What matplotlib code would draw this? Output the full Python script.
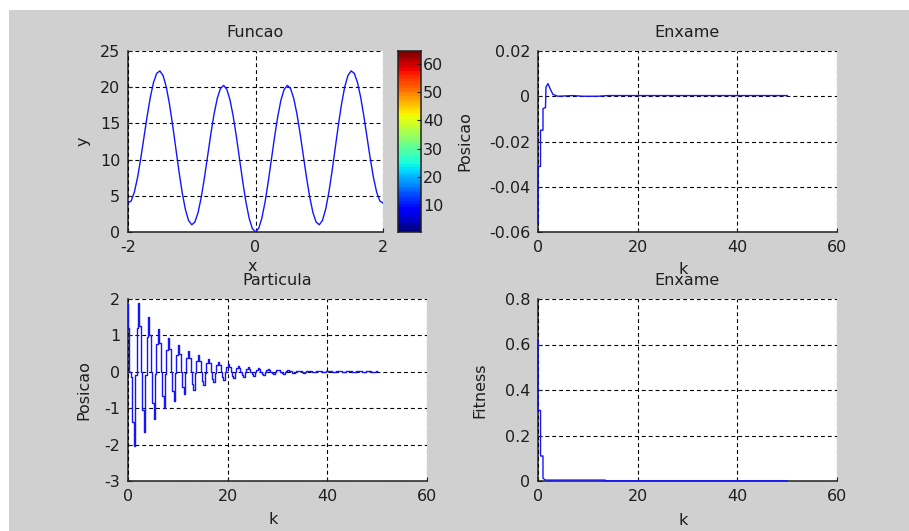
import numpy as np
import matplotlib
matplotlib.use("Agg")
import matplotlib.pyplot as plt
from matplotlib.patches import Rectangle

plt.rcParams['font.family'] = ['DejaVu Sans']
plt.rcParams['font.size'] = 11.5
plt.rcParams['axes.unicode_minus'] = False

# ---------------- data ----------------
# Funcao (y vs x)
func_x = np.linspace(-2, 2, 81)
func_half = [0.00, 0.49, 1.92, 4.14, 6.95, 10.06, 13.18, 16.00, 18.25, 19.71,
             20.25, 19.81, 18.45, 16.30, 13.58, 10.56, 7.55, 4.84, 2.72, 1.39,
             1.00, 1.59, 3.12, 5.44, 8.35, 11.56, 14.78, 17.70, 20.05, 21.61,
             22.25, 21.91, 20.65, 18.60, 15.98, 13.06, 10.15, 7.54, 5.52, 4.29,
             4.00]
func_y = func_half[::-1][:-1] + func_half

# Enxame - Posicao
enx_k = [0, 0, 0.5, 0.5, 1.0, 1.0, 1.5, 1.6, 2.0, 2.5, 3.0, 4.0, 5.0, 7.0,
         9.0, 12.0, 14.0, 20.0, 30.0, 40.0, 50.0]
enx_pos = [-0.056, -0.031, -0.031, -0.015, -0.015, -0.0055, -0.0050, 0.0040,
           0.0056, 0.0030, 0.0008, 0.0000, 0.0001, 0.0003, 0.0000, 0.0000,
           0.0003, 0.0003, 0.0003, 0.0003, 0.0003]

# Particula - Posicao (step levels)
part_levels = [
    1.85, 1.20, 0.00, -0.15, -1.38, -2.05, -0.10, 1.20,
    1.90, 1.27, 0.00, -1.05, -1.65, -0.08, 0.95,
    1.50, 1.00, 0.00, -0.85, -1.30, -0.06, 0.75,
    1.17, 0.78, 0.00, -0.66, -1.00, -0.05, 0.60,
    0.93, 0.62, 0.00, -0.53, -0.80, -0.04, 0.47,
    0.74, 0.49, 0.00, -0.41, -0.62, -0.03, 0.37,
    0.58, 0.39, 0.00, -0.33, -0.50, -0.03, 0.29,
    0.45, 0.30, 0.00, -0.25, -0.37, -0.02, 0.23,
    0.36, 0.24, 0.00, -0.19, -0.28, -0.02, 0.18,
    0.28, 0.19, 0.00, -0.15, -0.22, -0.01, 0.14,
    0.21, 0.14, 0.00, -0.11, -0.17, -0.01, 0.10,
    0.16, 0.11, 0.00, -0.09, -0.14, -0.01, 0.08,
    0.13, 0.09, 0.00, -0.07, -0.11, -0.01, 0.06,
    0.10, 0.07, 0.00, -0.05, -0.08, 0.00, 0.05,
    0.07, 0.05, 0.00, -0.04, -0.06, 0.00, 0.04,
    0.05, 0.04, 0.00, -0.03, -0.05, 0.00, 0.03,
    0.04, 0.03, 0.01, -0.02, -0.03, 0.00, 0.02,
    0.03, 0.02, 0.01, -0.01, -0.02, 0.00, 0.02,
    0.02, 0.02, 0.01, 0.00, -0.01, 0.00, 0.01,
    0.02, 0.02, 0.01, 0.00, -0.01, 0.00, 0.01,
    0.02, 0.01, 0.01, 0.00, 0.00, 0.00, 0.01,
    0.02, 0.01, 0.01, 0.00, 0.00, 0.00, 0.01,
    0.01, 0.01, 0.01, 0.00, 0.00, 0.00, 0.01,
    0.01, 0.01, 0.01, 0.00, 0.00, 0.00, 0.01,
    0.01, 0.01, 0.01, 0.00, 0.00, 0.00, 0.01,
    0.01,
]
part_k = np.concatenate([[0.0], np.arange(len(part_levels) - 1) * (2.0 / 7.0)])

# Enxame - Fitness
fit_k = [0, 0, 0.5, 0.5, 1.0, 1.0, 1.5, 13.5, 13.5, 50.0]
fit_val = [0.62, 0.31, 0.31, 0.11, 0.11, 0.012, 0.004, 0.004, 0.0008, 0.0008]

# colorbar
cbar_levels = np.arange(1, 65)
cbar_ticks = [10, 20, 30, 40, 50, 60]

# ---------------- figure ----------------
W, H = 909, 531
fig = plt.figure(figsize=(W / 100, H / 100), dpi=100, facecolor='white')
fig.patches.append(Rectangle((9 / W, 0), 1 - 9 / W, (H - 10) / H,
                             transform=fig.transFigure, facecolor='#d0d0d0',
                             edgecolor='none', zorder=-10))

def box(l, t, r, b):
    return [l / W, (H - b) / H, (r - l) / W, (b - t) / H]

LINE = '#1414ff'
TXT = '#1e1e1e'
FS = 11.5

def style(ax):
    ax.set_facecolor('white')
    for s in ['top', 'right']:
        ax.spines[s].set_visible(False)
    for s in ['left', 'bottom']:
        ax.spines[s].set_linewidth(1.1)
        ax.spines[s].set_color('#202020')
    ax.tick_params(direction='in', length=3, width=0.8, colors='#202020',
                   labelcolor=TXT, labelsize=FS)
    ax.tick_params(axis='x', pad=5.5)
    ax.tick_params(axis='y', pad=5.5)
    ax.grid(True, color='black', linestyle=(0, (3.5, 2.7)), linewidth=0.8)
    ax.set_axisbelow(False)

def labels(ax, title, xl, yl, xpos, ypos):
    ax.set_title(title, fontsize=FS, color=TXT, pad=10)
    ax.set_xlabel(xl, fontsize=FS, color=TXT)
    ax.set_ylabel(yl, fontsize=FS, color=TXT)
    ax.xaxis.set_label_coords(*xpos)
    ax.xaxis.label.set_verticalalignment('center')
    ax.yaxis.set_label_coords(*ypos)
    ax.yaxis.label.set_verticalalignment('center')

LW = 1.0

# Funcao
ax1 = fig.add_axes(box(128, 51, 383, 232))
ax1.plot(func_x, func_y, color=LINE, lw=LW, zorder=3)
ax1.set_xlim(-2, 2)
ax1.set_ylim(0, 25)
ax1.set_xticks([-2, 0, 2])
ax1.set_yticks([0, 5, 10, 15, 20, 25])
style(ax1)
labels(ax1, 'Funcao', 'x', 'y', (0.486, -0.19), (-0.176, 0.5))

# colorbar
axc = fig.add_axes(box(398, 51, 421, 232))
axc.imshow(cbar_levels[::-1].reshape(-1, 1), cmap='jet', aspect='auto',
           extent=[0, 1, 0.5, 64.5], interpolation='nearest')
axc.set_xticks([])
axc.yaxis.tick_right()
axc.set_yticks(cbar_ticks)
axc.tick_params(direction='in', length=3, width=0.8, colors='#202020',
                labelcolor=TXT, labelsize=FS, pad=1.5)
for s in axc.spines.values():
    s.set_linewidth(1.1)
    s.set_color('#202020')

# Enxame posicao
ax2 = fig.add_axes(box(538, 51, 837, 232))
ax2.plot(enx_k, enx_pos, color=LINE, lw=LW, zorder=3, clip_on=False)
ax2.set_xlim(0, 60)
ax2.set_ylim(-0.06, 0.02)
ax2.set_xticks([0, 20, 40, 60])
ax2.set_yticks([-0.06, -0.04, -0.02, 0, 0.02])
ax2.set_yticklabels(['-0.06', '-0.04', '-0.02', '0', '0.02'])
style(ax2)
labels(ax2, 'Enxame', 'k', 'Posicao', (0.485, -0.205), (-0.245, 0.5))

# Particula
ax3 = fig.add_axes(box(128, 299, 427, 481))
ax3.plot(part_k, part_levels, color=LINE, lw=LW, drawstyle='steps-post',
         zorder=3, clip_on=False)
ax3.set_xlim(0, 60)
ax3.set_ylim(-3, 2)
ax3.set_xticks([0, 20, 40, 60])
ax3.set_yticks([-3, -2, -1, 0, 1, 2])
style(ax3)
labels(ax3, 'Particula', 'k', 'Posicao', (0.485, -0.21), (-0.147, 0.5))

# Enxame fitness
ax4 = fig.add_axes(box(538, 299, 837, 481))
ax4.plot(fit_k, fit_val, color=LINE, lw=LW, zorder=3, clip_on=False)
ax4.set_xlim(0, 60)
ax4.set_ylim(0, 0.8)
ax4.set_xticks([0, 20, 40, 60])
ax4.set_yticks([0, 0.2, 0.4, 0.6, 0.8])
ax4.set_yticklabels(['0', '0.2', '0.4', '0.6', '0.8'])
style(ax4)
labels(ax4, 'Enxame', 'k', 'Fitness', (0.485, -0.215), (-0.194, 0.5))

fig.savefig('out.png', dpi=100, facecolor=fig.get_facecolor())
